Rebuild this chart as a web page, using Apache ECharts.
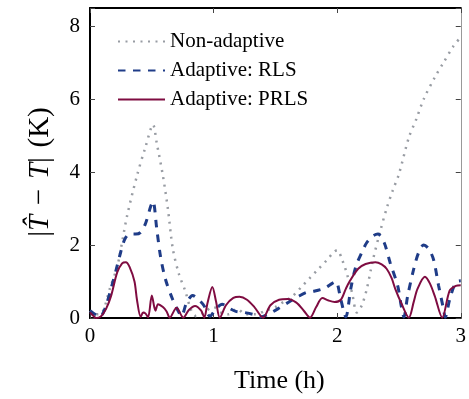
<!DOCTYPE html>
<html>
<head>
<meta charset="utf-8">
<script src="https://cdn.jsdelivr.net/npm/echarts@6/dist/echarts.min.js"></script>
<style>
  html, body { margin: 0; padding: 0; background: #fff; }
  #chart { width: 469px; height: 399px; }
</style>
</head>
<body>
<div id="chart"></div>
<script>
// Temperature estimation error |T̂ − T| over time, three estimators: [time (h), error (K)]
const nonAdaptive = [
  [0, 0.2], [0.05, 0.1], [0.1, 0.15], [0.16, 0.8], [0.22, 1.4], [0.25, 1.9],
  [0.3, 2.8], [0.38, 3.9], [0.45, 4.7], [0.51, 5.3], [0.54, 4.8], [0.59, 3.9],
  [0.63, 3.0], [0.67, 1.9], [0.72, 1.2], [0.77, 0.75], [0.82, 0.2], [0.86, 0.05],
  [0.92, 0.15], [1.0, 0.3], [1.06, 0.15], [1.12, 0.1], [1.19, 0.25], [1.26, 0.1],
  [1.34, 0.1], [1.42, 0.2], [1.5, 0.3], [1.57, 0.45], [1.64, 0.6], [1.71, 0.85],
  [1.78, 1.1], [1.85, 1.35], [1.92, 1.6], [1.97, 1.8], [2.0, 1.86], [2.04, 1.6],
  [2.08, 1.2], [2.12, 0.7], [2.16, 0.15], [2.2, 0.35], [2.24, 0.8], [2.29, 1.6],
  [2.35, 2.4], [2.4, 3.0], [2.45, 3.5], [2.5, 3.95], [2.58, 4.95], [2.64, 5.45],
  [2.7, 6.0], [2.79, 6.6], [2.86, 7.0], [2.94, 7.45], [3.0, 7.7]
];

const adaptiveRLS = [
  [0, 0.2], [0.04, 0.1], [0.08, 0.03], [0.12, 0.25], [0.17, 0.8], [0.21, 1.3],
  [0.24, 1.7], [0.28, 2.15], [0.32, 2.3], [0.37, 2.3], [0.41, 2.35], [0.45, 2.6],
  [0.49, 3.05], [0.51, 3.2], [0.54, 2.45], [0.57, 1.7], [0.61, 1.07], [0.67, 0.5],
  [0.72, 0.15], [0.74, 0.05], [0.78, 0.4], [0.83, 0.62], [0.88, 0.5], [0.92, 0.35],
  [0.97, 0.05], [1.02, 0.25], [1.07, 0.38], [1.12, 0.28], [1.18, 0.18], [1.25, 0.15],
  [1.32, 0.1], [1.38, 0.03], [1.45, 0.12], [1.52, 0.25], [1.6, 0.42], [1.68, 0.58],
  [1.75, 0.7], [1.82, 0.74], [1.9, 0.82], [1.96, 0.95], [1.99, 1.0], [2.03, 0.5],
  [2.07, 0.03], [2.11, 0.8], [2.15, 1.4], [2.2, 1.8], [2.24, 2.07], [2.29, 2.25],
  [2.33, 2.3], [2.38, 2.07], [2.43, 1.5], [2.49, 0.88], [2.52, 0.3], [2.54, 0.03],
  [2.57, 0.6], [2.62, 1.35], [2.66, 1.8], [2.7, 2.0], [2.74, 1.9], [2.78, 1.6],
  [2.82, 0.9], [2.86, 0.25], [2.875, 0.02], [2.91, 0.5], [2.96, 0.98], [3.0, 1.02]
];

const adaptivePRLS = [
  [0, 0.15], [0.03, 0.05], [0.05, 0.0], [0.09, 0.05], [0.13, 0.25], [0.17, 0.6],
  [0.22, 1.25], [0.26, 1.5], [0.29, 1.53], [0.32, 1.4], [0.36, 1.0], [0.38, 0.5],
  [0.41, 0.03], [0.43, 0.15], [0.45, 0.12], [0.47, 0.02], [0.5, 0.62], [0.52, 0.3],
  [0.53, 0.2], [0.55, 0.38], [0.59, 0.3], [0.62, 0.18], [0.645, 0.01], [0.7, 0.28],
  [0.755, 0.01], [0.8, 0.22], [0.85, 0.33], [0.9, 0.2], [0.925, 0.01], [0.95, 0.4],
  [0.99, 0.85], [1.02, 0.45], [1.05, 0.01], [1.1, 0.35], [1.16, 0.55], [1.21, 0.58],
  [1.27, 0.5], [1.33, 0.3], [1.4, 0.01], [1.46, 0.35], [1.53, 0.5], [1.6, 0.52],
  [1.67, 0.42], [1.73, 0.2], [1.78, 0.01], [1.83, 0.3], [1.88, 0.55], [1.93, 0.48],
  [1.98, 0.44], [2.03, 0.5], [2.07, 0.8], [2.1, 1.0], [2.17, 1.35], [2.23, 1.48],
  [2.31, 1.53], [2.36, 1.47], [2.4, 1.35], [2.44, 1.1], [2.47, 0.8], [2.52, 0.4],
  [2.58, 0.01], [2.62, 0.45], [2.65, 0.8], [2.71, 1.13], [2.75, 0.95], [2.79, 0.6],
  [2.85, 0.01], [2.91, 0.75], [2.96, 0.88], [3.0, 0.9]
];

const seriesNames = ['Non-adaptive', 'Adaptive: RLS', 'Adaptive: PRLS'];
const xTicks = { min: 0, max: 3, step: 1 };
const yTicks = { min: 0, max: 8.5, step: 2 };

const FONT = '"Liberation Serif", "DejaVu Serif", serif';
const GREY = '#989ca3';
const BLUE = '#1f3c88';
const MAROON = '#7f0c41';

const chart = echarts.init(document.getElementById('chart'), null, { renderer: 'canvas' });

const tickStyle = { show: true, inside: true, length: 5, lineStyle: { color: '#444', width: 1 } };

chart.setOption({
  animation: false,
  backgroundColor: '#fff',
  grid: { left: 90, right: 1, top: 8, bottom: 80, containLabel: false },
  legend: {
    orient: 'vertical',
    left: 112,
    top: 26,
    itemWidth: 47,
    itemHeight: 14,
    itemGap: 8,
    itemStyle: { opacity: 0 },
    textStyle: { fontFamily: FONT, fontSize: 21, color: '#000', lineHeight: 21 },
    data: seriesNames
  },
  xAxis: [
    {
      type: 'value', min: xTicks.min, max: xTicks.max, interval: xTicks.step,
      position: 'bottom',
      name: 'Time (h)', nameLocation: 'middle', nameGap: 50,
      nameTextStyle: { fontFamily: FONT, fontSize: 26, color: '#000', padding: [0, 0, 0, 8] },
      axisLine: { show: true, onZero: false, lineStyle: { color: '#000', width: 2 } },
      axisTick: tickStyle,
      axisLabel: { fontFamily: FONT, fontSize: 21, color: '#000', margin: 8 },
      splitLine: { show: false }
    },
    {
      type: 'value', min: xTicks.min, max: xTicks.max, interval: xTicks.step,
      position: 'top',
      axisLine: { show: true, onZero: false, lineStyle: { color: '#000', width: 2 } },
      axisTick: tickStyle,
      axisLabel: { show: false },
      splitLine: { show: false }
    }
  ],
  yAxis: [
    {
      type: 'value', min: yTicks.min, max: yTicks.max, interval: yTicks.step,
      position: 'left',
      name: '|{it|T\u0302}\u2004\u2212\u2004{it|T}|\u2004(K)', nameLocation: 'middle', nameGap: 35,
      nameTextStyle: {
        fontFamily: FONT, fontSize: 29, color: '#000', padding: [0, 18, 0, 0],
        rich: { it: { fontFamily: FONT, fontSize: 29, fontStyle: 'italic', color: '#000' } }
      },
      axisLine: { show: true, onZero: false, lineStyle: { color: '#000', width: 2 } },
      axisTick: tickStyle,
      axisLabel: {
        fontFamily: FONT, fontSize: 21, color: '#000', margin: 10,
        formatter: v => (v % yTicks.step === 0 ? String(v) : '')
      },
      splitLine: { show: false }
    },
    {
      type: 'value', min: yTicks.min, max: yTicks.max, interval: yTicks.step,
      position: 'right',
      axisLine: { show: true, onZero: false, lineStyle: { color: '#999', width: 1 } },
      axisTick: tickStyle,
      axisLabel: { show: false },
      splitLine: { show: false }
    }
  ],
  series: [
    {
      name: seriesNames[0], type: 'line', data: nonAdaptive,
      xAxisIndex: 0, yAxisIndex: 0,
      symbol: 'none', smooth: 0.3,
      lineStyle: { color: GREY, width: 2.5, type: [2, 5.5] },
      itemStyle: { color: GREY }, z: 2
    },
    {
      name: seriesNames[1], type: 'line', data: adaptiveRLS,
      xAxisIndex: 0, yAxisIndex: 0,
      symbol: 'none', smooth: 0.3,
      lineStyle: { color: BLUE, width: 3, type: [7.5, 7.5] },
      itemStyle: { color: BLUE }, z: 3
    },
    {
      name: seriesNames[2], type: 'line', data: adaptivePRLS,
      xAxisIndex: 0, yAxisIndex: 0,
      symbol: 'none', smooth: 0.3,
      lineStyle: { color: MAROON, width: 2 },
      itemStyle: { color: MAROON }, z: 4
    }
  ]
});
</script>
</body>
</html>
